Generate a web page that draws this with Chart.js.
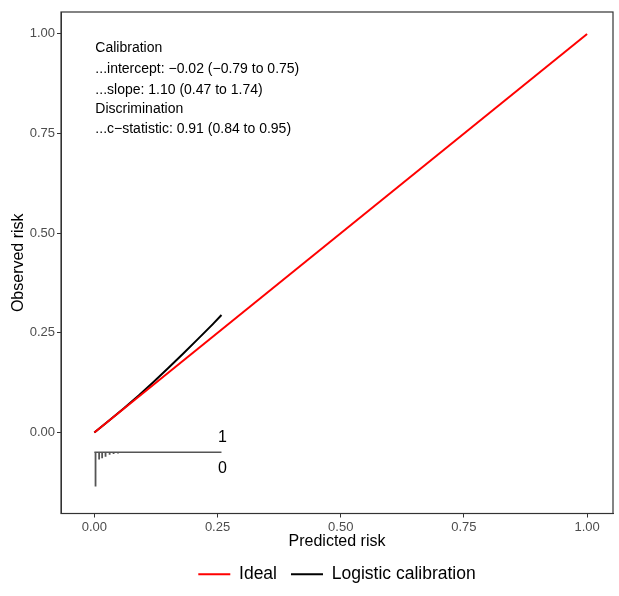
<!DOCTYPE html>
<html lang="en">
<head>
    <meta charset="UTF-8">
    <title>calibration plot</title>
    <script src="https://cdn.jsdelivr.net/npm/chart.js@4.4.1/dist/chart.umd.min.js"></script>
    <style>
        body {margin: 0; background: #fff;}
        #wrap {width: 619px; height: 596px;}
    </style>
</head>
<body>
    <div id="wrap">
        <canvas id="calChart" width="619" height="596"></canvas>
    </div>

    <script>
        // ideal line
        const idealX = [0, 1];
        const idealY = [0, 1];
        // logistic calibration curve
        const logX = [0, 0.03, 0.06, 0.09, 0.12, 0.15, 0.18, 0.21, 0.24, 0.258];
        const logY = [0, 0.030, 0.0606, 0.0927, 0.1263, 0.1614, 0.1974, 0.234, 0.2712, 0.2945];
        // spike histogram of predicted risk (outcome 0 below the baseline)
        const histBase = -0.05;
        const histEnd = 0.258;
        const spikeX = [0.0024, 0.0097, 0.0158, 0.0227, 0.031, 0.039, 0.048];
        const spikeY = [-0.136, -0.068, -0.065, -0.061, -0.056, -0.054, -0.053];
        // axis ticks
        const tickVals = [0, 0.25, 0.5, 0.75, 1];
        // annotation
        const noteLines = [
            'Calibration',
            '...intercept: \u22120.02 (\u22120.79 to 0.75)',
            '...slope: 1.10 (0.47 to 1.74)',
            'Discrimination',
            '...c\u2212statistic: 0.91 (0.84 to 0.95)'
        ];
        const noteY = [0.964, 0.912, 0.859, 0.811, 0.760];

        const FONT = "'Liberation Sans', Arial, Helvetica, sans-serif";

        function pts(xs, ys) {
            return xs.map((x, i) => ({x: x, y: ys[i]}));
        }

        const spikePts = [];
        spikeX.forEach((x, i) => {
            spikePts.push({x: x, y: histBase});
            spikePts.push({x: x, y: spikeY[i]});
            spikePts.push({x: x, y: null});
        });

        const extras = {
            id: 'extras',
            afterDatasetsDraw(chart) {
                const {ctx, chartArea: a, scales: {x, y}} = chart;
                ctx.save();
                ctx.strokeStyle = '#333';
                ctx.lineWidth = 1.2;
                ctx.strokeRect(a.left, a.top, a.right - a.left, a.bottom - a.top);

                ctx.fillStyle = '#000';
                ctx.font = '14px ' + FONT;
                ctx.textBaseline = 'middle';
                ctx.textAlign = 'left';
                noteLines.forEach((t, i) => {
                    ctx.fillText(t, x.getPixelForValue(0) + 1, y.getPixelForValue(noteY[i]));
                });

                ctx.font = '16px ' + FONT;
                ctx.textAlign = 'center';
                ctx.fillText('1', x.getPixelForValue(histEnd) + 1, y.getPixelForValue(histBase) - 15);
                ctx.fillText('0', x.getPixelForValue(histEnd) + 1, y.getPixelForValue(histBase) + 16);
                ctx.restore();
            }
        };

        const ctx = document.getElementById('calChart').getContext('2d');
        new Chart(ctx, {
            type: 'scatter',
            data: {
                datasets: [
                    {
                        label: 'Ideal',
                        data: pts(idealX, idealY),
                        showLine: true,
                        borderColor: '#ff0000',
                        backgroundColor: '#ff0000',
                        borderWidth: 2,
                        pointRadius: 0
                    },
                    {
                        label: 'Logistic calibration',
                        data: pts(logX, logY),
                        showLine: true,
                        borderColor: '#000',
                        backgroundColor: '#000',
                        borderWidth: 2,
                        pointRadius: 0
                    },
                    {
                        label: 'hist',
                        data: [{x: 0, y: histBase}, {x: histEnd, y: histBase}],
                        showLine: true,
                        borderColor: '#555',
                        borderWidth: 1.5,
                        pointRadius: 0
                    },
                    {
                        label: 'spikes',
                        data: spikePts,
                        showLine: true,
                        spanGaps: false,
                        borderColor: '#555',
                        borderWidth: 1.8,
                        pointRadius: 0
                    }
                ]
            },
            options: {
                responsive: false,
                animation: false,
                layout: {padding: {left: 9, top: 12, right: 6, bottom: 3}},
                plugins: {
                    tooltip: {enabled: false},
                    legend: {
                        position: 'bottom',
                        fullSize: false,
                        labels: {
                            filter: item => item.text === 'Ideal' || item.text === 'Logistic calibration',
                            usePointStyle: true,
                            pointStyle: 'line',
                            pointStyleWidth: 32,
                            boxHeight: 17,
                            color: '#000',
                            font: {family: FONT, size: 17.5},
                            padding: 14
                        }
                    }
                },
                scales: {
                    x: {
                        type: 'linear',
                        min: -0.0677,
                        max: 1.0526,
                        afterBuildTicks: s => { s.ticks = tickVals.map(v => ({value: v})); },
                        afterFit: s => { s.height = 38; },
                        ticks: {
                            callback: v => v.toFixed(2),
                            color: '#4d4d4d',
                            font: {family: FONT, size: 13},
                            padding: 2,
                            maxRotation: 0
                        },
                        grid: {drawOnChartArea: false, drawTicks: true, tickLength: 4, color: '#333'},
                        border: {display: true, color: '#333'},
                        title: {
                            display: true,
                            text: 'Predicted risk',
                            color: '#000',
                            font: {family: FONT, size: 16},
                            padding: {top: 0, bottom: 0}
                        }
                    },
                    y: {
                        type: 'linear',
                        min: -0.2035,
                        max: 1.055,
                        afterBuildTicks: s => { s.ticks = tickVals.map(v => ({value: v})); },
                        afterFit: s => { s.width = 52; },
                        ticks: {
                            callback: v => v.toFixed(2),
                            color: '#4d4d4d',
                            font: {family: FONT, size: 13},
                            padding: 2
                        },
                        grid: {drawOnChartArea: false, drawTicks: true, tickLength: 4, color: '#333'},
                        border: {display: true, color: '#333'},
                        title: {
                            display: true,
                            text: 'Observed risk',
                            color: '#000',
                            font: {family: FONT, size: 16},
                            padding: {top: 0, bottom: 4}
                        }
                    }
                }
            },
            plugins: [extras]
        });
    </script>
</body>
</html>
